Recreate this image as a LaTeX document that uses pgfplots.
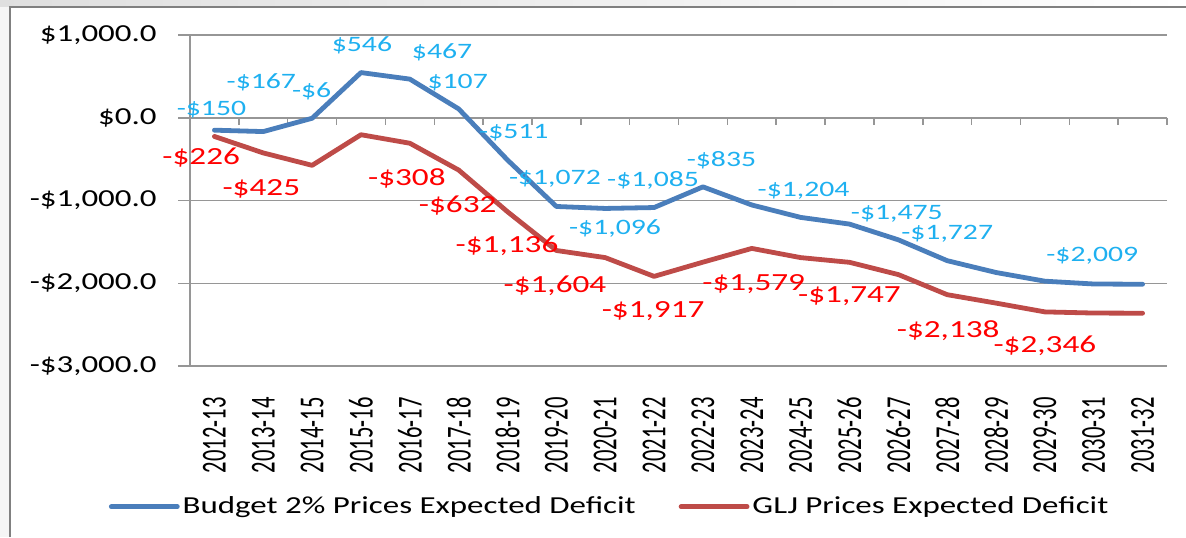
\documentclass[border=0pt]{standalone}
\usepackage{graphicx}
\usepackage{pgfplots}
\pgfplotsset{compat=1.18}
\usepackage{fontspec}
\setmainfont[FakeStretch=1.35]{Carlito}
\newfontfamily\plainfont{Carlito}
\definecolor{bline}{RGB}{74,126,187}
\definecolor{rline}{RGB}{190,75,72}
\definecolor{blab}{RGB}{30,176,240}
\definecolor{rlab}{RGB}{255,0,0}
\definecolor{gridc}{RGB}{150,150,150}
\newcommand\xl[1]{\scalebox{1}[1.55]{#1}}
\tikzset{
  bl/.style={text=blab, font=\fontsize{11}{12}\selectfont, inner sep=0pt, text height=6.9pt, text depth=0pt, anchor=center},
  rl/.style={text=rlab, font=\fontsize{12.3}{13}\selectfont, inner sep=0pt, text height=7.7pt, text depth=0pt, anchor=center}
}
\begin{document}
\begin{tikzpicture}
\path[use as bounding box] (0pt,0pt) rectangle (593pt,268.5pt);
\shade[left color=gray!25,right color=white] (0pt,265pt) rectangle (593pt,268.5pt);
\fill[gray!8] (0pt,0pt) rectangle (5pt,265pt);
\draw[gray, line width=1pt] (5pt,0pt) -- (5pt,265pt) -- (593pt,265pt);

\begin{axis}[at={(95pt,85.5pt)}, anchor=south west, scale only axis,
  width=488.5pt, height=165.5pt,
  xmin=-0.5, xmax=19.5, ymin=-3000, ymax=1000,
  axis x line=middle, axis y line=none,
  xtick={-0.5,0.5,1.5,2.5,3.5,4.5,5.5,6.5,7.5,8.5,9.5,10.5,11.5,12.5,13.5,14.5,15.5,16.5,17.5,18.5,19.5},
  xticklabels={}, ytick=\empty,
  tick align=outside, major tick length=3.5pt,
  axis line style={-, draw=gridc, line width=0.75pt},
  tick style={draw=gridc, line width=0.75pt}]
\end{axis}

\begin{axis}[at={(95pt,85.5pt)}, anchor=south west, scale only axis,
  width=488.5pt, height=165.5pt,
  xmin=-0.5, xmax=19.5, ymin=-3000, ymax=1000,
  axis x line*=bottom, axis y line*=left,
  axis line style={-, draw=gridc, line width=0.75pt},
  xtick={0,...,19},
  xticklabels={\xl{2012-13},\xl{2013-14},\xl{2014-15},\xl{2015-16},\xl{2016-17},\xl{2017-18},\xl{2018-19},\xl{2019-20},\xl{2020-21},\xl{2021-22},\xl{2022-23},\xl{2023-24},\xl{2024-25},\xl{2025-26},\xl{2026-27},\xl{2027-28},\xl{2028-29},\xl{2029-30},\xl{2030-31},\xl{2031-32}},
  x tick style={draw=none},
  x tick label style={rotate=90, anchor=east, font=\plainfont\fontsize{11.3}{13}\selectfont, inner sep=0pt},
  xticklabel shift=9.5pt,
  ytick={-3000,-2000,-1000,0,1000},
  yticklabels={{-\$3,000.0},{-\$2,000.0},{-\$1,000.0},{\$0.0},{\$1,000.0}},
  y tick label style={font=\fontsize{12.2}{13}\selectfont, inner sep=0pt, anchor=east},
  yticklabel shift=10.5pt,
  tick align=outside, major tick length=6pt,
  y tick style={draw=gridc, line width=0.75pt},
  ymajorgrids, major grid style={draw=gridc, line width=0.75pt},
  legend style={at={(0.43,-0.425)}, anchor=center, draw=none, fill=none,
    font=\fontsize{12.2}{14}\selectfont, legend columns=2,
    /tikz/every even column/.append style={column sep=20pt},
    cells={anchor=west}, inner sep=0pt, nodes={inner sep=1.5pt}},
  legend image code/.code={\draw[#1] (0pt,0pt) -- (33pt,0pt);},
  clip=false]
\addplot[bline, line width=2.4pt, line join=round, line cap=round] coordinates {
(0,-150) (1,-167) (2,-6) (3,546) (4,467) (5,107) (6,-511) (7,-1072) (8,-1096) (9,-1085)
(10,-835) (11,-1054) (12,-1204) (13,-1285) (14,-1475) (15,-1727) (16,-1870) (17,-1975) (18,-2009) (19,-2012)};
\addlegendentry{Budget 2\% Prices Expected Deficit}
\addplot[rline, line width=2.4pt, line join=round, line cap=round] coordinates {
(0,-226) (1,-425) (2,-575) (3,-205) (4,-308) (5,-632) (6,-1136) (7,-1604) (8,-1690) (9,-1917)
(10,-1745) (11,-1579) (12,-1690) (13,-1747) (14,-1895) (15,-2138) (16,-2240) (17,-2346) (18,-2360) (19,-2362)};
\addlegendentry{GLJ Prices Expected Deficit}

\node[bl] at (axis cs:-0.06,109) {-\$150};
\node[bl] at (axis cs:0.96,435) {-\$167};
\node[bl] at (axis cs:1.99,326) {-\$6};
\node[bl] at (axis cs:3.02,882) {\$546};
\node[bl] at (axis cs:4.66,798) {\$467};
\node[bl] at (axis cs:4.98,435) {\$107};
\node[bl] at (axis cs:6.13,-169) {-\$511};
\node[bl] at (axis cs:6.97,-725) {-\$1,072};
\node[bl] at (axis cs:8.2,-1329) {-\$1,096};
\node[bl] at (axis cs:8.98,-749) {-\$1,085};
\node[bl] at (axis cs:10.38,-508) {-\$835};
\node[bl] at (axis cs:12.06,-870) {-\$1,204};
\node[bl] at (axis cs:13.97,-1148) {-\$1,475};
\node[bl] at (axis cs:15.0,-1390) {-\$1,727};
\node[bl] at (axis cs:17.97,-1656) {-\$2,009};

\node[rl] at (axis cs:-0.27,-471) {-\$226};
\node[rl] at (axis cs:0.96,-846) {-\$425};
\node[rl] at (axis cs:3.94,-725) {-\$308};
\node[rl] at (axis cs:4.98,-1051) {-\$632};
\node[rl] at (axis cs:5.99,-1535) {-\$1,136};
\node[rl] at (axis cs:6.97,-2018) {-\$1,604};
\node[rl] at (axis cs:8.98,-2320) {-\$1,917};
\node[rl] at (axis cs:11.04,-1994) {-\$1,579};
\node[rl] at (axis cs:13.0,-2139) {-\$1,747};
\node[rl] at (axis cs:15.02,-2562) {-\$2,138};
\node[rl] at (axis cs:17.0,-2743) {-\$2,346};
\end{axis}
\end{tikzpicture}
\end{document}
